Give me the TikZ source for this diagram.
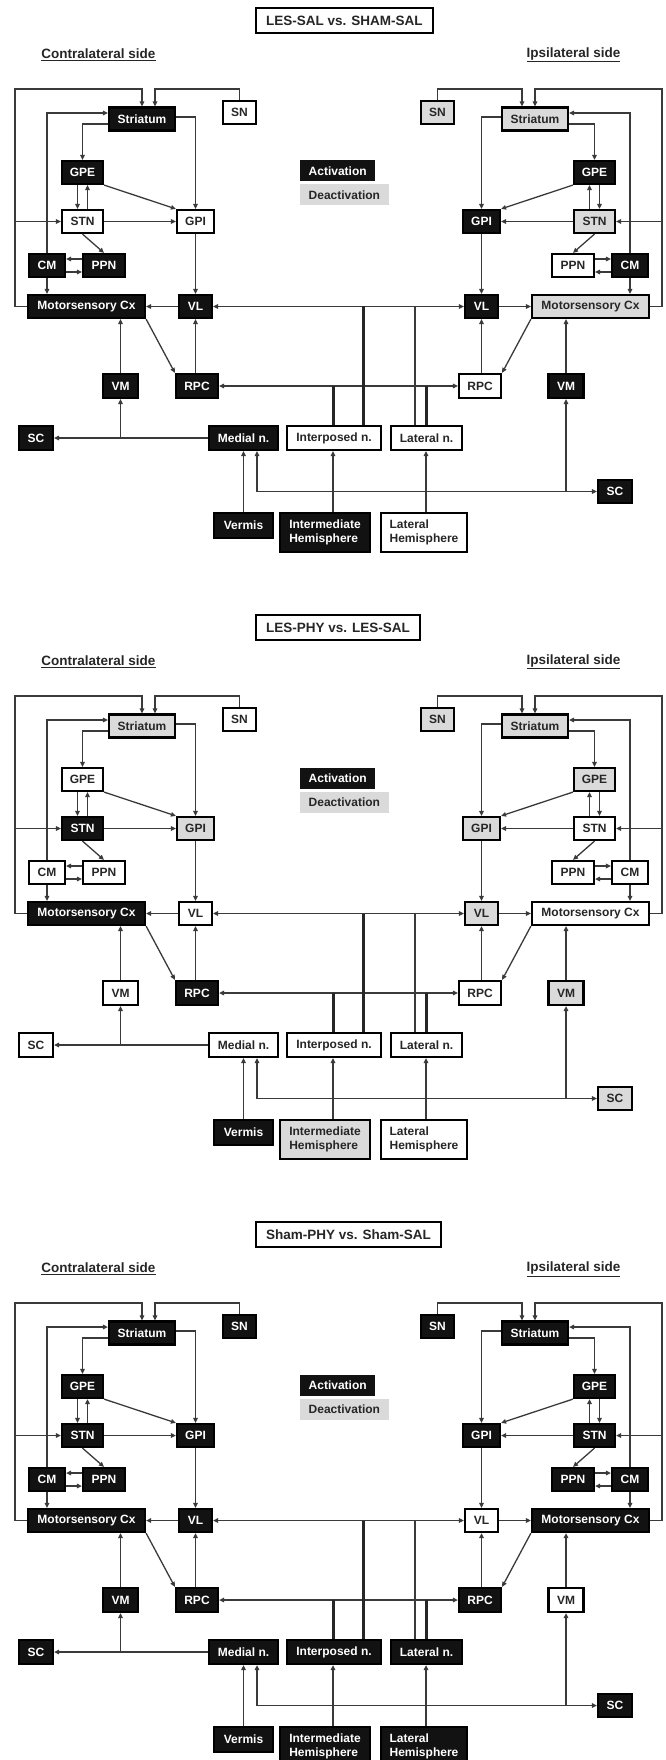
\documentclass[tikz,border=0pt]{standalone}
\usepackage{fontspec}
\setmainfont{Liberation Sans}
\usetikzlibrary{arrows.meta}
\definecolor{ink}{HTML}{262626}
\definecolor{wiregray}{HTML}{3A3A3A}
\definecolor{actblack}{HTML}{121212}
\definecolor{deactgray}{HTML}{DADADA}
\tikzstyle{box}=[draw=black, line width=2.2pt, inner sep=0pt, minimum height=23pt, font=\bfseries\fontsize{12}{13.5}\selectfont]
\tikzstyle{act}=[fill=actblack, text=white]
\tikzstyle{deact}=[fill=deactgray, text=ink]
\tikzstyle{neut}=[fill=white, text=ink]
\tikzstyle{wire}=[draw=wiregray, line width=1.3pt]
\tikzstyle{link}=[wire, ->]
\tikzstyle{heavy}=[draw=ink, line width=3pt]
\tikzstyle{sidelabel}=[text=ink, font=\bfseries\fontsize{13.5}{15}\selectfont]
\tikzstyle{key}=[anchor=west, inner xsep=8.5pt, inner ysep=0pt, minimum height=21pt, font=\bfseries\fontsize{12}{13.5}\selectfont]

% one side of a panel, drawn as the contralateral one; #1 = c or i, #2 = x of VM
\newcommand\side[2]{%
  \node[box, #1Str, minimum width=66pt] (#1Str) at (142,119) {Striatum};
  \node[box, #1SN, minimum width=33pt] (#1SN) at (239.5,112.5) {SN};
  \node[box, #1GPE, minimum width=41pt] (#1GPE) at (82.5,172.5) {GPE};
  \node[box, #1STN, minimum width=41pt] (#1STN) at (82.5,221.5) {STN};
  \node[box, #1GPI, minimum width=37pt] (#1GPI) at (195.5,221.5) {GPI};
  \node[box, #1CM, minimum width=36pt] (#1CM) at (47,265.5) {CM};
  \node[box, #1PPN, minimum width=42pt] (#1PPN) at (104,265.5) {PPN};
  \node[box, #1MCx, minimum width=117pt] (#1MCx) at (86.5,306.5) {Motorsensory Cx};
  \node[box, #1VL, minimum width=33pt] (#1VL) at (195.5,306.5) {VL};
  \node[box, #1VM, minimum width=35pt, minimum height=24pt] (#1VM) at (#2,386) {VM};
  \node[box, #1RPC, minimum width=42pt, minimum height=24pt] (#1RPC) at (197,386) {RPC};
  \draw[link] (#1MCx.\wside) -| (15,89) -| (#1Str.north);
  \draw[link] (#1SN.north) |- (155,89) -- (155,0 |- #1Str.north);
  \draw[link] (#1CM.north) |- (#1Str.\wside |- 0,113);
  \draw[link] (#1CM.south) -- (#1CM.south |- #1MCx.north);
  \draw[link] (#1Str.\wside |- 0,124) -| (#1GPE.north);
  \draw[link] (#1Str.\eside |- 0,117) -| (#1GPI.north);
  \draw[link] (77.5,0 |- #1GPE.south) -- (77.5,0 |- #1STN.north);
  \draw[link] (87.5,0 |- #1STN.north) -- (87.5,0 |- #1GPE.south);
  \draw[link] (#1GPE.south \eside) -- (#1GPI.north \wside);
  \draw[link] (#1STN) -- (#1GPI);
  \draw[link] (15,0 |- #1STN) -- (#1STN.\wside);
  \draw[link] (#1STN.south) -- (#1PPN.north);
  \draw[link] (#1PPN.\wside |- 0,259) -- (#1CM.\eside |- 0,259);
  \draw[link] (#1CM.\eside |- 0,272) -- (#1PPN.\wside |- 0,272);
  \draw[link] (#1GPI) -- (#1VL);
  \draw[link] (#1VL) -- (#1MCx);
  \draw[link] (#1MCx.south \eside) -- (#1RPC.north \wside);
  \draw[link] (#1VM) -- (#1VM |- #1MCx.south);
  \draw[link] (#1VL |- #1RPC.north) -- (#1VL);
}

% #1 = title, #2 = vertical offset
\newcommand\panel[2]{%
\begin{scope}[yshift=-#2pt]
  \node[box, neut, anchor=west, inner xsep=10pt, minimum height=25pt, font=\bfseries\fontsize{13.5}{15}\selectfont] (title) at (255,20.5) {#1};
  \node[sidelabel] (contra) at (98.5,55) {\underline{Contralateral side}};
  \node[sidelabel] (ipsi) at (573.5,55) {\underline{Ipsilateral side}};
  \node[key, act] (actkey) at (300,171) {Activation};
  \node[key, deact] (deactkey) at (300,195) {Deactivation};
  \begin{scope}
    \def\wside{west}\def\eside{east}
    \side{c}{120.5}
  \end{scope}
  \begin{scope}[xshift=677pt, xscale=-1]
    \def\wside{east}\def\eside{west}
    \side{i}{111}
  \end{scope}
  \node[box, cSC, minimum width=34pt, minimum height=24pt] (cSC) at (36,438) {SC};
  \node[box, iSC, minimum width=34pt] (iSC) at (615,491.5) {SC};
  \node[box, Med, minimum width=69pt, minimum height=24pt] (Med) at (243.5,438) {Medial n.};
  \node[box, Int, minimum width=94pt, minimum height=24pt] (Int) at (334,438) {Interposed n.};
  \node[box, Lat, minimum width=71pt, minimum height=24pt] (Lat) at (426.5,438) {Lateral n.};
  \node[box, Ver, minimum width=59pt, minimum height=25pt] (Ver) at (243.5,525.5) {Vermis};
  \node[box, IH, minimum width=90pt, minimum height=39pt, align=left] (IH) at (325,532.5) {Intermediate\\Hemisphere};
  \node[box, LH, minimum width=86pt, minimum height=39pt, align=left] (LH) at (424,532.5) {Lateral\\Hemisphere};
  \draw[link, <->] (cVL) -- (iVL);
  \draw[link, <->] (cRPC) -- (iRPC);
  \draw[heavy] (333,0 |- Int.north) -- (333,386);
  \draw[heavy] (363,0 |- Int.north) -- (363,306.5);
  \draw[wire] (415,0 |- Lat.north) -- (415,306.5);
  \draw[heavy] (426,0 |- Lat.north) -- (426,386);
  \draw[link] (Med) -- (cSC);
  \draw[link] (cVM |- Med) -- (cVM);
  \draw[link, <->] (257,0 |- Med.south) |- (iSC);
  \draw[link] (iVM |- iSC) -- (iVM);
  \draw[link] (Ver) -- (Med);
  \draw[link] (333,0 |- IH.north) -- (333,0 |- Int.south);
  \draw[link] (426,0 |- LH.north) -- (426,0 |- Lat.south);
\end{scope}
}

\begin{document}
\begin{tikzpicture}[x=1pt, y=-1pt, >={Triangle[length=5pt,width=4.5pt]}]
\useasboundingbox (0,0) rectangle (665,1760);

\tikzset{cStr/.style=act, cSN/.style=neut, cGPE/.style=act, cSTN/.style=neut, cGPI/.style=neut, cCM/.style=act,
  cPPN/.style=act, cMCx/.style=act, cVL/.style=act, cVM/.style=act, cRPC/.style=act, cSC/.style=act,
  iStr/.style=deact, iSN/.style=deact, iGPE/.style=act, iSTN/.style=deact, iGPI/.style=act, iCM/.style=act,
  iPPN/.style=neut, iMCx/.style=deact, iVL/.style=act, iVM/.style=act, iRPC/.style=neut, iSC/.style=act,
  Med/.style=act, Int/.style=neut, Lat/.style=neut, Ver/.style=act, IH/.style=act, LH/.style=neut}
\panel{LES-SAL vs. SHAM-SAL}{0}

\tikzset{cStr/.style=deact, cSN/.style=neut, cGPE/.style=neut, cSTN/.style=act, cGPI/.style=deact, cCM/.style=neut,
  cPPN/.style=neut, cMCx/.style=act, cVL/.style=neut, cVM/.style=neut, cRPC/.style=act, cSC/.style=neut,
  iStr/.style=deact, iSN/.style=deact, iGPE/.style=deact, iSTN/.style=neut, iGPI/.style=deact, iCM/.style=neut,
  iPPN/.style=neut, iMCx/.style=neut, iVL/.style=deact, iVM/.style=deact, iRPC/.style=neut, iSC/.style=deact,
  Med/.style=neut, Int/.style=neut, Lat/.style=neut, Ver/.style=act, IH/.style=deact, LH/.style=neut}
\panel{LES-PHY vs. LES-SAL}{607}

\tikzset{cStr/.style=act, cSN/.style=act, cGPE/.style=act, cSTN/.style=act, cGPI/.style=act, cCM/.style=act,
  cPPN/.style=act, cMCx/.style=act, cVL/.style=act, cVM/.style=act, cRPC/.style=act, cSC/.style=act,
  iStr/.style=act, iSN/.style=act, iGPE/.style=act, iSTN/.style=act, iGPI/.style=act, iCM/.style=act,
  iPPN/.style=act, iMCx/.style=act, iVL/.style=neut, iVM/.style=neut, iRPC/.style=act, iSC/.style=act,
  Med/.style=act, Int/.style=act, Lat/.style=act, Ver/.style=act, IH/.style=act, LH/.style=act}
\panel{Sham-PHY vs. Sham-SAL}{1214}
\end{tikzpicture}
\end{document}
